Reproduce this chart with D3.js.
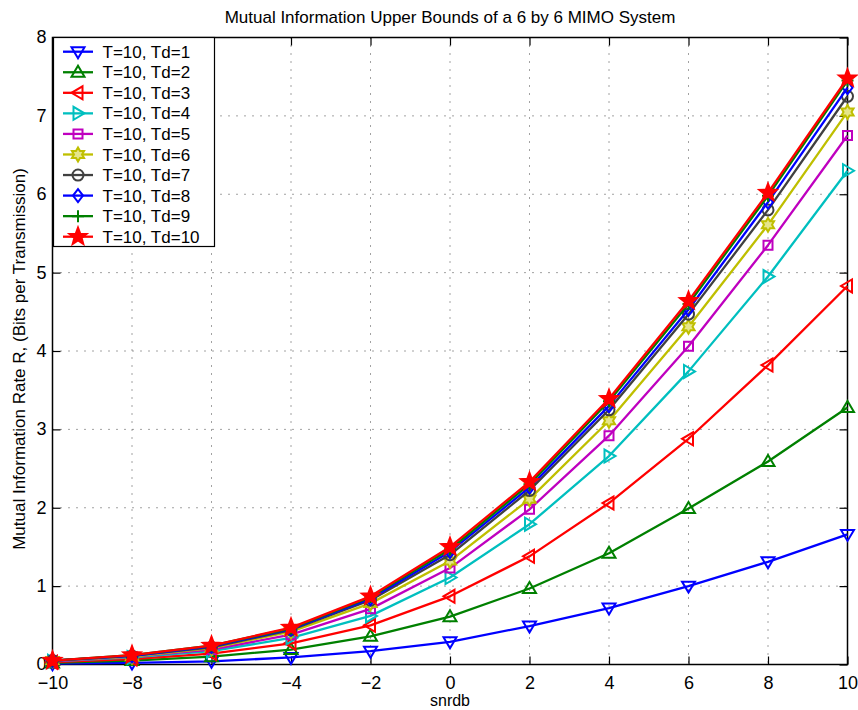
<!DOCTYPE html>
<html>
<head>
<meta charset="utf-8">
<script src="https://cdn.jsdelivr.net/npm/d3@7"></script>
<style>
  html, body { margin: 0; padding: 0; background: #fff; }
  svg { display: block; }
  text { font-family: "Liberation Sans", Arial, Helvetica, sans-serif; fill: #000; }
</style>
</head>
<body>
<svg id="chart" width="858" height="710"></svg>
<script>
// SNR grid (dB) and tick values
const snrdb = [-10, -8, -6, -4, -2, 0, 2, 4, 6, 8, 10];
const xTicks = [-10, -8, -6, -4, -2, 0, 2, 4, 6, 8, 10];
const yTicks = [0, 1, 2, 3, 4, 5, 6, 7, 8];

// Mutual information rate bounds for T=10 and Td = 1..10
const td1  = [0.01, 0.02, 0.04, 0.09, 0.17, 0.29, 0.49, 0.72, 1.00, 1.31, 1.66];
const td2  = [0.02, 0.05, 0.10, 0.19, 0.36, 0.61, 0.97, 1.42, 1.99, 2.59, 3.28];
const td3  = [0.03, 0.07, 0.14, 0.27, 0.50, 0.87, 1.38, 2.06, 2.88, 3.82, 4.83];
const td4  = [0.04, 0.09, 0.17, 0.34, 0.62, 1.11, 1.79, 2.66, 3.74, 4.95, 6.30];
const td5  = [0.04, 0.10, 0.19, 0.38, 0.71, 1.23, 1.98, 2.92, 4.06, 5.35, 6.75];
const td6  = [0.05, 0.10, 0.21, 0.42, 0.78, 1.32, 2.11, 3.11, 4.31, 5.61, 7.05];
const td7  = [0.05, 0.11, 0.22, 0.44, 0.82, 1.40, 2.22, 3.25, 4.47, 5.80, 7.25];
const td8  = [0.05, 0.11, 0.23, 0.45, 0.84, 1.44, 2.26, 3.30, 4.53, 5.90, 7.36];
const td9  = [0.05, 0.12, 0.24, 0.46, 0.86, 1.47, 2.30, 3.36, 4.60, 5.98, 7.45];
const td10 = [0.05, 0.12, 0.24, 0.47, 0.87, 1.50, 2.33, 3.39, 4.64, 6.02, 7.48];

const seriesNames = ["T=10, Td=1", "T=10, Td=2", "T=10, Td=3", "T=10, Td=4", "T=10, Td=5",
                     "T=10, Td=6", "T=10, Td=7", "T=10, Td=8", "T=10, Td=9", "T=10, Td=10"];
const seriesValues = [td1, td2, td3, td4, td5, td6, td7, td8, td9, td10];
const seriesColors = ["#0000ff", "#008000", "#ff0000", "#00bfbf", "#bf00bf",
                      "#bfbf00", "#404040", "#0000ff", "#008000", "#ff0000"];
const seriesMarkers = ["triDown", "triUp", "triLeft", "triRight", "square",
                       "hexagram", "circle", "diamond", "plus", "pentagram"];

(function draw() {
  const svg = d3.select("#chart");
  const pLeft = 52.5, pRight = 847.5, pTop = 37.5, pBottom = 664.5;

  const x = d3.scaleLinear().domain([-10, 10]).range([pLeft, pRight]);
  const y = d3.scaleLinear().domain([0, 8]).range([pBottom, pTop]);

  // Dotted grid
  const grid = svg.append("g");
  grid.selectAll("line.gx").data(xTicks.slice(1, -1)).join("line")
    .attr("class", "gx")
    .attr("x1", d => x(d)).attr("x2", d => x(d))
    .attr("y1", pTop).attr("y2", pBottom)
    .attr("stroke", "#444").attr("stroke-width", 1).attr("stroke-dasharray", "1,7");
  grid.selectAll("line.gy").data(yTicks.slice(1, -1)).join("line")
    .attr("class", "gy")
    .attr("y1", d => y(d)).attr("y2", d => y(d))
    .attr("x1", pLeft).attr("x2", pRight)
    .attr("stroke", "#444").attr("stroke-width", 1).attr("stroke-dasharray", "1,7");

  // Axes with inward ticks on all four sides
  const tickLen = 8;
  const axB = svg.append("g").attr("transform", `translate(0,${pBottom})`)
    .call(d3.axisBottom(x).tickValues(xTicks).tickSizeInner(-tickLen).tickSizeOuter(0).tickPadding(12)
          .tickFormat(d => d < 0 ? "\u2212" + Math.abs(d) : d));
  const axT = svg.append("g").attr("transform", `translate(0,${pTop})`)
    .call(d3.axisTop(x).tickValues(xTicks).tickSizeInner(-tickLen).tickSizeOuter(0).tickFormat(""));
  const axL = svg.append("g").attr("transform", `translate(${pLeft},0)`)
    .call(d3.axisLeft(y).tickValues(yTicks).tickSizeInner(-tickLen).tickSizeOuter(0).tickPadding(6));
  const axR = svg.append("g").attr("transform", `translate(${pRight},0)`)
    .call(d3.axisRight(y).tickValues(yTicks).tickSizeInner(-tickLen).tickSizeOuter(0).tickFormat(""));
  [axB, axT, axL, axR].forEach(a => {
    a.select(".domain").remove();
    a.selectAll(".tick line").attr("stroke", "#000").attr("stroke-width", 1.2);
    a.selectAll(".tick text").attr("font-size", 18)
      .attr("font-family", "Liberation Sans, Arial, sans-serif").attr("fill", "#000");
  });
  axB.selectAll(".tick text").attr("dy", "0.71em");
  axL.selectAll(".tick text").attr("dy", "0.3em");

  // Frame
  svg.append("rect").attr("x", pLeft).attr("y", pTop)
    .attr("width", pRight - pLeft).attr("height", pBottom - pTop)
    .attr("fill", "none").attr("stroke", "#000").attr("stroke-width", 1.5);

  // Marker shapes
  function starPath(points, rOut, rIn, rot) {
    const pts = [];
    for (let i = 0; i < points * 2; i++) {
      const r = i % 2 === 0 ? rOut : rIn;
      const a = rot + i * Math.PI / points;
      pts.push([r * Math.cos(a), r * Math.sin(a)]);
    }
    return "M" + pts.map(p => p[0].toFixed(2) + "," + p[1].toFixed(2)).join("L") + "Z";
  }
  function markerPath(kind) {
    switch (kind) {
      case "triDown": return "M-6.5,-4.5L6.5,-4.5L0,6.5Z";
      case "triUp": return "M-6.5,4.5L6.5,4.5L0,-6.5Z";
      case "triLeft": return "M4.5,-6.5L4.5,6.5L-6.5,0Z";
      case "triRight": return "M-4.5,-6.5L-4.5,6.5L6.5,0Z";
      case "square": return "M-4.5,-4.5H4.5V4.5H-4.5Z";
      case "circle": return "M5.5,0A5.5,5.5 0 1,1 -5.5,0A5.5,5.5 0 1,1 5.5,0Z";
      case "diamond": return "M0,-6.5L5,0L0,6.5L-5,0Z";
      case "plus": return "M-6,0H6M0,-6V6";
      case "hexagram": return starPath(6, 7, 4, -Math.PI / 2);
      case "pentagram": return starPath(5, 9, 3.8, -Math.PI / 2);
    }
  }
  function markerFill(kind, color) {
    if (kind === "pentagram") return color;
    if (kind === "hexagram") return "#e5e58a";
    return "none";
  }

  // Lines and markers
  const line = d3.line().x((d, i) => x(snrdb[i])).y(d => y(d));
  const plot = svg.append("g");
  seriesValues.forEach((vals, s) => {
    const g = plot.append("g");
    g.append("path").datum(vals).attr("d", line)
      .attr("fill", "none").attr("stroke", seriesColors[s]).attr("stroke-width", 2.3)
      .attr("stroke-linejoin", "round");
    g.selectAll("path.m").data(vals).join("path")
      .attr("class", "m")
      .attr("transform", (d, i) => `translate(${x(snrdb[i])},${y(d)})`)
      .attr("d", markerPath(seriesMarkers[s]))
      .attr("fill", markerFill(seriesMarkers[s], seriesColors[s]))
      .attr("stroke", seriesColors[s]).attr("stroke-width", 2);
  });

  // Legend
  const lg = svg.append("g");
  const lgX = 53.5, lgY = 37.5, lgW = 161, lgH = 209;
  lg.append("rect").attr("x", lgX).attr("y", lgY).attr("width", lgW).attr("height", lgH)
    .attr("fill", "#fff").attr("stroke", "#000").attr("stroke-width", 1.2);
  const rowY = d3.scaleLinear().domain([0, 9]).range([51.7, 236.7]);
  seriesNames.forEach((name, s) => {
    const yy = rowY(s);
    lg.append("line").attr("x1", 63).attr("x2", 93).attr("y1", yy).attr("y2", yy)
      .attr("stroke", seriesColors[s]).attr("stroke-width", 2.3);
    lg.append("path").attr("transform", `translate(78,${yy})`)
      .attr("d", markerPath(seriesMarkers[s]))
      .attr("fill", markerFill(seriesMarkers[s], seriesColors[s]))
      .attr("stroke", seriesColors[s]).attr("stroke-width", 2);
    lg.append("text").attr("x", 102.5).attr("y", yy).attr("dy", "0.36em")
      .attr("font-size", 17).text(name);
  });

  // Titles
  svg.append("text").attr("x", (pLeft + pRight) / 2).attr("y", 23)
    .attr("text-anchor", "middle").attr("font-size", 17)
    .text("Mutual Information Upper Bounds of a 6 by 6 MIMO System");
  svg.append("text").attr("x", (pLeft + pRight) / 2).attr("y", 706)
    .attr("text-anchor", "middle").attr("font-size", 16).text("snrdb");
  svg.append("text")
    .attr("transform", `translate(25,${(pTop + pBottom) / 2 + 8}) rotate(-90)`)
    .attr("text-anchor", "middle").attr("font-size", 17)
    .text("Mutual Information Rate R, (Bits per Transmission)");
})();
</script>
</body>
</html>
